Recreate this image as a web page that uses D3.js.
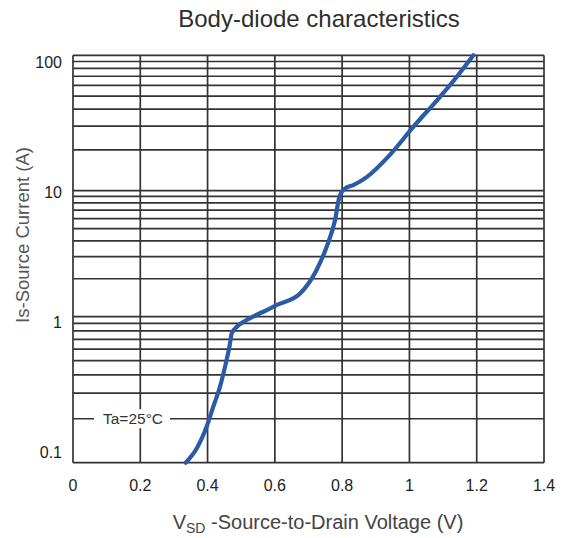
<!DOCTYPE html>
<html>
<head>
<meta charset="utf-8">
<script src="https://cdn.jsdelivr.net/npm/d3@7"></script>
<style>
  body { margin: 0; background: #fff; }
  svg text { font-family: "Liberation Sans", Arial, sans-serif; }
</style>
</head>
<body>
<div id="chart"></div>
<script>
// curve
const vsd = [0.335, 0.368, 0.399, 0.417, 0.437, 0.452, 0.465, 0.472, 0.487, 0.516, 0.576, 0.606, 0.675, 0.724, 0.754, 0.779, 0.792, 0.809, 0.833, 0.873, 0.942, 1.012, 1.091, 1.141, 1.19];
const isd = [0.1, 0.1255, 0.181, 0.242, 0.332, 0.455, 0.623, 0.77, 0.853, 0.948, 1.13, 1.24, 1.53, 2.35, 3.59, 5.85, 8.96, 10.4, 11.0, 12.6, 18.4, 29.7, 49.4, 69.5, 100];

const xTicks = [0, 0.2, 0.4, 0.6, 0.8, 1, 1.2, 1.4];
const yTicks = [0.1, 1, 10, 100];
const yMinor = [1, 2, 3, 4, 5, 6, 7, 8, 9];

const width = 563, height = 538;
const plotLeft = 73, plotRight = 544, plotTop = 55.3, plotBottom = 462.7;

const svg = d3.select("#chart").append("svg")
  .attr("width", width)
  .attr("height", height);

const x = d3.scaleLinear().domain([0, 1.4]).range([plotLeft, plotRight]);
// decades in the original are not equally tall
const y = d3.scaleLog().domain([0.1, 1, 10, 100]).range([plotBottom, 316.7, 190.7, plotTop]);
// the tick numbers are evenly spaced though
const yLab = d3.scaleLog().domain([0.1, 100]).range([452.5, 62.5]);

// grid
const hLines = [];
yTicks.slice(0, -1).forEach(d => yMinor.forEach(m => hLines.push(d * m)));
hLines.push(100);

svg.append("g").selectAll("line")
  .data(hLines)
  .enter().append("line")
  .attr("x1", plotLeft).attr("x2", plotRight)
  .attr("y1", d => y(d)).attr("y2", d => y(d))
  .attr("stroke", "#333").attr("stroke-width", 1.7);

svg.append("g").selectAll("line")
  .data(xTicks)
  .enter().append("line")
  .attr("x1", d => x(d)).attr("x2", d => x(d))
  .attr("y1", plotTop).attr("y2", plotBottom)
  .attr("stroke", "#333").attr("stroke-width", 1.7);

// Ta label sits on the 0.2 A line with a white gap
const ta = svg.append("g");
ta.append("rect")
  .attr("x", 94).attr("y", y(0.2) - 9.5)
  .attr("width", 76).attr("height", 19)
  .attr("fill", "#fff");
ta.append("text")
  .attr("x", 133).attr("y", y(0.2))
  .attr("dy", "0.35em")
  .attr("text-anchor", "middle")
  .attr("font-size", 15.5)
  .attr("fill", "#333")
  .text("Ta=25°C");

// curve
const line = d3.line()
  .x((d, i) => x(vsd[i]))
  .y((d, i) => y(isd[i]))
  .curve(d3.curveMonotoneX);

svg.append("path")
  .datum(vsd)
  .attr("d", line)
  .attr("fill", "none")
  .attr("stroke", "#2b5aa6")
  .attr("stroke-width", 4.2)
  .attr("stroke-linecap", "round");

// tick labels
svg.append("g").selectAll("text")
  .data(xTicks)
  .enter().append("text")
  .attr("x", d => x(d)).attr("y", 485)
  .attr("dy", "0.35em")
  .attr("text-anchor", "middle")
  .attr("font-size", 16)
  .attr("fill", "#222")
  .text(d => d);

svg.append("g").selectAll("text")
  .data(yTicks)
  .enter().append("text")
  .attr("x", 62).attr("y", d => yLab(d))
  .attr("dy", "0.35em")
  .attr("text-anchor", "end")
  .attr("font-size", 16)
  .attr("fill", "#222")
  .text(d => d);

// titles
svg.append("text")
  .attr("x", 319).attr("y", 27)
  .attr("text-anchor", "middle")
  .attr("font-size", 24)
  .attr("fill", "#2e2e2e")
  .text("Body-diode characteristics");

svg.append("text")
  .attr("transform", "translate(23,235)rotate(-90)")
  .attr("dy", "0.35em")
  .attr("text-anchor", "middle")
  .attr("font-size", 18.5)
  .attr("fill", "#555")
  .text("Is-Source Current (A)");

const xl = svg.append("text")
  .attr("x", 318).attr("y", 529)
  .attr("text-anchor", "middle")
  .attr("font-size", 20)
  .attr("fill", "#444");
xl.append("tspan").text("V");
xl.append("tspan").attr("font-size", 14).attr("dy", 4).text("SD");
xl.append("tspan").attr("dy", -4).text(" -Source-to-Drain Voltage (V)");
</script>
</body>
</html>
